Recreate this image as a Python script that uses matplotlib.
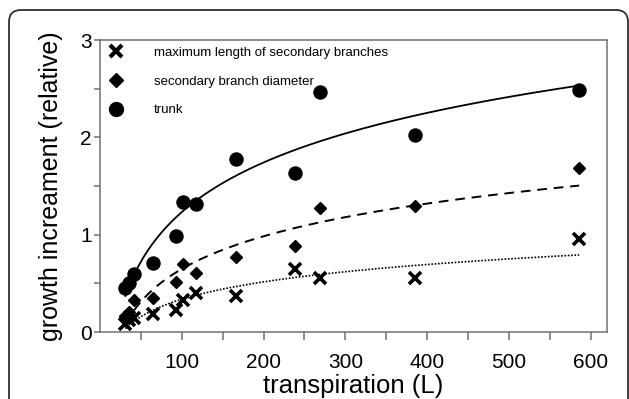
import numpy as np
import matplotlib
matplotlib.use("Agg")
import matplotlib.pyplot as plt
from matplotlib.lines import Line2D
from matplotlib.patches import FancyBboxPatch
from matplotlib.transforms import IdentityTransform

plt.rcParams['font.family'] = ['Liberation Sans', 'DejaVu Sans']

# one value per tree
transpiration = [31, 36, 41, 65, 93, 101, 117, 166, 239, 269, 385, 586]
branch_length = [0.08, 0.12, 0.14, 0.19, 0.23, 0.33, 0.40, 0.37, 0.65, 0.55, 0.55, 0.96]
branch_diameter = [0.16, 0.21, 0.33, 0.35, 0.51, 0.70, 0.61, 0.77, 0.88, 1.27, 1.29, 1.69]
trunk = [0.45, 0.50, 0.60, 0.71, 0.99, 1.34, 1.32, 1.78, 1.63, 2.47, 2.02, 2.49]

labels = ['maximum length of secondary branches', 'secondary branch diameter', 'trunk']

fig = plt.figure(figsize=(6.29, 3.99), dpi=100)
ax = fig.add_axes([100/629, 1 - 332/399, 507/629, 292/399])


def log_fit(x, y):
    # y = a + b ln(x), as drawn in the original
    b, a = np.polyfit(np.log(x), y, 1)
    xs = np.linspace(min(x), max(x), 200)
    return xs, a + b * np.log(xs)


ax.plot(transpiration, branch_length, 'x', color='black', ms=8, mew=2.6)
ax.plot(transpiration, branch_diameter, 'D', color='black', ms=6.3)
ax.plot(transpiration, trunk, 'o', color='black', ms=9.4)

xs, ys = log_fit(transpiration, trunk)
ax.plot(xs, ys, '-', color='black', lw=1.3)
xs, ys = log_fit(transpiration, branch_diameter)
ax.plot(xs, ys, color='black', lw=1.4, dashes=(5, 3.5))
xs, ys = log_fit(transpiration, branch_length)
ax.plot(xs, ys, color='black', lw=1.2, dashes=(1, 1))

ax.set_xlim(0, 620)
ax.set_ylim(0, 3)
ax.set_xticks([100, 200, 300, 400, 500, 600])
ax.set_xticks(np.arange(50, 620, 100), minor=True)
ax.set_yticks([0, 1, 2, 3])
ax.set_yticks([0.5, 1.5, 2.5], minor=True)

for s in ax.spines.values():
    s.set_color('#707070')
    s.set_linewidth(1.1)
ax.tick_params(axis='x', which='both', direction='out', length=6, width=1.1,
               color='#707070', labelsize=15, pad=9)
ax.tick_params(axis='y', which='both', direction='out', length=4, width=1.1,
               color='#707070', labelsize=15, pad=2)

ax.set_xlabel('transpiration (L)', fontsize=18.5)
ax.set_ylabel('growth increament (relative)', fontsize=18)
ax.xaxis.set_label_coords(0.5, -0.145)
ax.yaxis.set_label_coords(-0.072, 0.5)

handles = [
    Line2D([], [], ls='none', marker='x', color='black', ms=8.5, mew=3),
    Line2D([], [], ls='none', marker='D', color='black', ms=7),
    Line2D([], [], ls='none', marker='o', color='black', ms=10),
]
ax.legend(handles, labels, loc='upper left', frameon=False, fontsize=9.5,
          handlelength=1.4, handletextpad=2.2, borderaxespad=0.1,
          labelspacing=1.25)

# rounded outer frame
frame = FancyBboxPatch((9, -40), 619, 399 - 10 + 40,
                       boxstyle='round,pad=0,rounding_size=12',
                       transform=IdentityTransform(), fill=False,
                       ec='#303030', lw=1.3, clip_on=False)
fig.add_artist(frame)

fig.savefig('out.png', dpi=100)
